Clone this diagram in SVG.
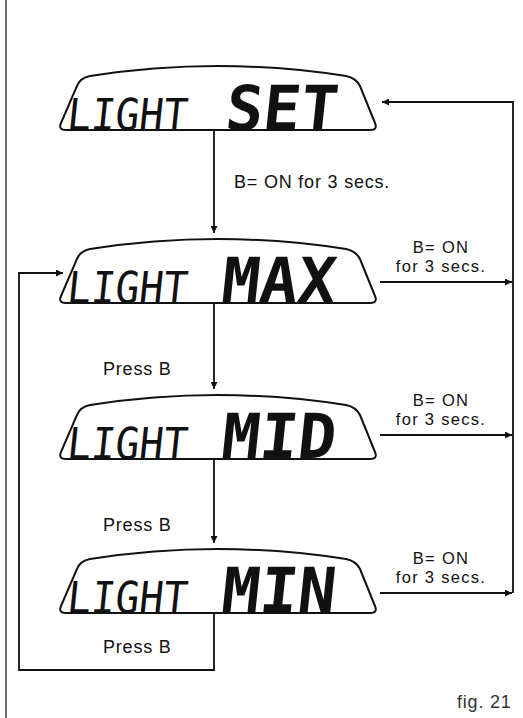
<svg xmlns="http://www.w3.org/2000/svg" width="523" height="718" viewBox="0 0 523 718">
<defs>
<style>
.disp{fill:none;stroke:#111;stroke-width:2}
.lcd1{font-family:"DejaVu Sans Mono",monospace;font-size:44px;fill:#111}
.lcd2{font-family:"DejaVu Sans Mono",monospace;font-size:62px;font-weight:bold;fill:#111}
.lbl{font-family:"Liberation Sans",Arial,sans-serif;font-size:18px;letter-spacing:0.8px;fill:#111}
.rl{font-family:"Liberation Sans",Arial,sans-serif;font-size:16.5px;letter-spacing:1.3px;fill:#111;text-anchor:middle}
.con{fill:none;stroke:#111;stroke-width:1.8}
</style>
<marker id="ah" viewBox="0 0 10 10" refX="10" refY="5" markerWidth="9" markerHeight="7" markerUnits="userSpaceOnUse" orient="auto">
<path d="M0,0 L10,5 L0,10 Z" fill="#111"/>
</marker>
<path id="shape" d="M66,130 L370,130 Q378,130 375,123 L360,86 Q356,78 346,76 Q218,56 90,76 Q80,78 77,86 L61,123 Q58,130 66,130 Z"/>
</defs>
<rect width="523" height="718" fill="#fff"/>
<line x1="6" y1="0" x2="6" y2="718" stroke="#111" stroke-width="1.2"/>

<g id="display-set">
<use href="#shape" class="disp"/>
<g transform="translate(66,130) skewX(-6)"><text class="lcd1" x="0" y="0" textLength="120" lengthAdjust="spacingAndGlyphs">LIGHT</text></g>
<g transform="translate(224,130) skewX(-6)"><text class="lcd2" x="0" y="0" textLength="112" lengthAdjust="spacingAndGlyphs">SET</text></g>
</g>

<g id="display-max" transform="translate(0,173)">
<use href="#shape" class="disp"/>
<g transform="translate(66,130) skewX(-6)"><text class="lcd1" x="0" y="0" textLength="120" lengthAdjust="spacingAndGlyphs">LIGHT</text></g>
<g transform="translate(220,129) skewX(-6)"><text class="lcd2" x="0" y="0" textLength="114" lengthAdjust="spacingAndGlyphs">MAX</text></g>
</g>

<g id="display-mid" transform="translate(0,329)">
<use href="#shape" class="disp"/>
<g transform="translate(66,130) skewX(-6)"><text class="lcd1" x="0" y="0" textLength="120" lengthAdjust="spacingAndGlyphs">LIGHT</text></g>
<g transform="translate(220,129) skewX(-6)"><text class="lcd2" x="0" y="0" textLength="114" lengthAdjust="spacingAndGlyphs">MID</text></g>
</g>

<g id="display-min" transform="translate(0,483)">
<use href="#shape" class="disp"/>
<g transform="translate(66,130) skewX(-6)"><text class="lcd1" x="0" y="0" textLength="120" lengthAdjust="spacingAndGlyphs">LIGHT</text></g>
<g transform="translate(220,129) skewX(-6)"><text class="lcd2" x="0" y="0" textLength="114" lengthAdjust="spacingAndGlyphs">MIN</text></g>
</g>

<g id="connectors">
<line class="con" x1="214" y1="131" x2="214" y2="233" marker-end="url(#ah)"/>
<line class="con" x1="214" y1="304" x2="214" y2="389" marker-end="url(#ah)"/>
<line class="con" x1="214" y1="460" x2="214" y2="543" marker-end="url(#ah)"/>
<path class="con" d="M214,614 V670 H19 V273 H63" marker-end="url(#ah)"/>
<path class="con" d="M513,593 V102 H382" marker-end="url(#ah)"/>
<line class="con" x1="380" y1="282" x2="512" y2="282" marker-end="url(#ah)"/>
<line class="con" x1="380" y1="435" x2="512" y2="435" marker-end="url(#ah)"/>
<line class="con" x1="380" y1="593" x2="512" y2="593" marker-end="url(#ah)"/>
</g>

<g id="labels">
<text class="lbl" x="234" y="188">B= ON for 3 secs.</text>
<text class="rl" x="441" y="253">B= ON</text>
<text class="rl" x="441" y="272">for 3 secs.</text>
<text class="rl" x="441" y="406">B= ON</text>
<text class="rl" x="441" y="425">for 3 secs.</text>
<text class="rl" x="441" y="564">B= ON</text>
<text class="rl" x="441" y="583">for 3 secs.</text>
<text class="lbl" x="103" y="375">Press B</text>
<text class="lbl" x="103" y="531">Press B</text>
<text class="lbl" x="103" y="653">Press B</text>
<text class="lbl" x="457" y="708" style="fill:#333">fig. 21</text>
</g>
</svg>
